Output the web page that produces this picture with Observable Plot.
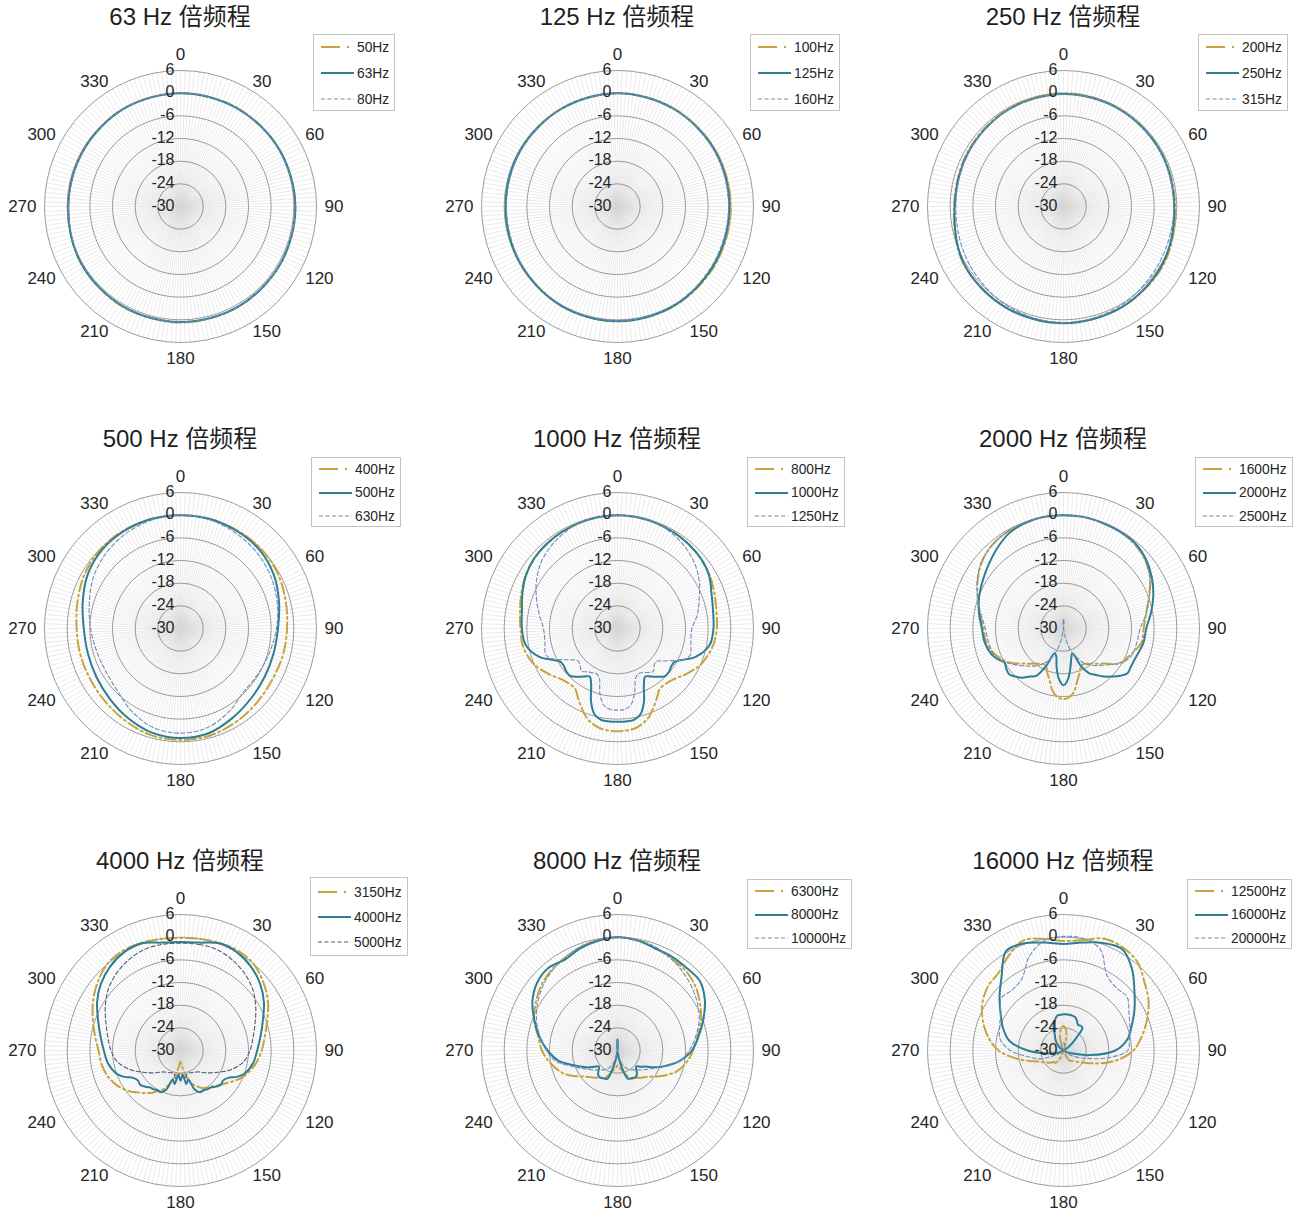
<!DOCTYPE html>
<html>
<head>
<meta charset="utf-8">
<script src="https://cdn.jsdelivr.net/npm/d3@7"></script>
<script src="https://cdn.jsdelivr.net/npm/@observablehq/plot@0.6"></script>
<style>
html,body{margin:0;padding:0;background:#fff;}
#page{position:relative;width:1293px;height:1212px;overflow:hidden;font-family:"Liberation Sans",Arial,Helvetica,sans-serif;color:#262626;}
.panel{position:absolute;}
.title{position:absolute;width:400px;text-align:center;font-size:24px;line-height:28px;font-family:"Liberation Sans","Noto Sans CJK SC",sans-serif;color:#1f1f1f;white-space:nowrap;}
.legend{position:absolute;background:#fff;border:1px solid #c4c4c4;}
.entry{height:18px;display:flex;align-items:center;font-size:13.8px;white-space:nowrap;color:#262626;}
.entry svg{display:block;margin-right:3px;}
</style>
</head>
<body>
<div id="page"></div>
<script>
// ---------------- data ----------------
const panelTitles = ["63 Hz 倍频程","125 Hz 倍频程","250 Hz 倍频程","500 Hz 倍频程","1000 Hz 倍频程","2000 Hz 倍频程","4000 Hz 倍频程","8000 Hz 倍频程","16000 Hz 倍频程"];
const panelNames = [["50Hz","63Hz","80Hz"],["100Hz","125Hz","160Hz"],["200Hz","250Hz","315Hz"],["400Hz","500Hz","630Hz"],["800Hz","1000Hz","1250Hz"],["1600Hz","2000Hz","2500Hz"],["3150Hz","4000Hz","5000Hz"],["6300Hz","8000Hz","10000Hz"],["12500Hz","16000Hz","20000Hz"]];

const thetaTicks = [0,30,60,90,120,150,180,210,240,270,300,330];
const rTicks = [6,0,-6,-12,-18,-24,-30];

// measurement angles (degrees, clockwise from front)
const A30 = [0,30,60,90,120,150,180,210,240,270,300,330];
const A15 = [0,15,30,45,60,75,90,105,120,135,150,165,180,195,210,225,240,255,270,285,300,315,330,345];
const AF = [0,10,20,30,40,50,60,70,80,90,100,110,115,120,125,130,135,140,145,150,155,160,165,170,175,180,185,190,195,200,205,210,215,220,225,230,235,240,245,250,260,270,280,290,300,310,320,330,340,350];

// levels in dB
const db50  = [0,0.1,0.2,0.4,0.5,0.6,0.7,0.6,0.3,-0.2,-0.3,0];
const db63  = [0,0,0.2,0.4,0.5,0.6,0.6,0.5,0.3,-0.3,-0.3,-0.1];
const db80  = [0,0,0.1,0.3,0.4,0.5,0.6,0.4,0.2,-0.4,-0.3,-0.1];

const db100 = [0,-0.1,-0.1,0,0.1,0.3,0.4,0.2,-0.1,-0.3,-0.3,-0.1];
const db125 = [0,-0.2,-0.3,-0.4,-0.2,0.2,0.4,0.2,-0.2,-0.4,-0.3,-0.2];
const db160 = [0,-0.2,-0.4,-0.6,-0.5,0,0.3,0,-0.4,-0.6,-0.4,-0.2];

const db200 = [0,-0.2,-0.4,-0.4,0.6,0.8,0.8,0.7,0.5,-1.0,-0.8,-0.3];
const db250 = [-0.2,-0.3,-0.5,-0.7,0.3,0.8,0.9,0.8,0.4,-1.2,-1.0,-0.5];
const db315 = [-0.2,-0.3,-0.6,-0.8,-0.6,0.3,0.8,0.2,-0.8,-1.5,-1.0,-0.5];

const db400 = [0,0,0,0,-0.4,-1.2,-1.8,-2.0,-2.2,-1.8,-1.2,-0.6,-0.5,-0.7,-1.5,-2.2,-2.6,-2.6,-2.5,-1.8,-0.8,-0.2,0,0];
const db500 = [0,0,-0.2,-0.5,-1.5,-3.0,-4.2,-4.5,-4.3,-3.7,-2.6,-1.3,-1.0,-1.4,-2.5,-3.6,-4.3,-4.6,-4.4,-3.2,-1.6,-0.6,-0.2,0];
const db630 = [0,-0.2,-0.8,-1.5,-2.4,-3.5,-4.6,-5.6,-6.2,-6.3,-4.5,-2.8,-2.3,-2.8,-4.5,-6.5,-7.2,-7.0,-6.2,-5.0,-3.3,-2.0,-1.0,-0.3];

const db800 = [0,0,-0.2,-0.5,-0.8,-1.2,-1.8,-2.7,-3.4,-3.7,-4.3,-5.5,
  -6.3,-7.4,-8.5,-9.6,-10.3,-10.6,-10.5,-9.0,-7.2,-5.3,-4.0,-3.2,-2.9,-2.8,-2.9,-3.2,-4.0,-5.3,-7.2,-9.0,-10.5,-10.6,-10.3,-9.6,-8.5,-7.4,-6.3,
  -5.5,-4.5,-4.3,-3.8,-2.9,-1.9,-1.2,-0.8,-0.5,-0.2,0];
const db1000 = [0,-0.1,-0.3,-0.5,-0.8,-1.2,-2.0,-3.5,-4.3,-4.6,-5.2,-8.0,
  -10.5,-12.5,-12.6,-12.2,-12.2,-13.3,-14.5,-15.3,-13.5,-9.5,-6.5,-5.4,-5.3,-5.3,-5.3,-5.4,-6.5,-9.5,-13.5,-15.3,-14.5,-13.3,-12.3,-12.3,-12.7,-12.5,-10.5,
  -8.0,-5.3,-4.7,-4.3,-3.2,-2.0,-1.2,-0.8,-0.5,-0.3,-0.1];
const db1250 = [0,-0.1,-0.3,-1.0,-2.0,-3.3,-5.0,-7.0,-8.5,-10.3,-10.3,-9.5,
  -10.5,-13.0,-15.0,-16.5,-16.3,-15.2,-15.8,-16.5,-16.8,-16.0,-12.5,-9.5,-8.5,-8.4,-8.5,-9.3,-12.0,-16.0,-16.8,-16.5,-16.0,-15.3,-16.0,-16.5,-15.5,-13.5,-11.0,
  -9.8,-10.5,-10.4,-9.0,-7.2,-5.2,-3.4,-2.1,-1.1,-0.3,-0.1];

const db1600 = [0,0,-0.2,-0.4,-0.8,-1.8,-3.5,-6.0,-7.8,-8.8,-9.0,-10.7,
  -11.5,-12.0,-13.5,-15.6,-16.8,-17.9,-18.6,-19.2,-19.0,-17.5,-15.8,-13.3,-11.8,-11.3,-11.8,-13.3,-15.8,-17.5,-19.0,-19.2,-18.6,-17.9,-16.8,-15.6,-14.0,-12.5,-11.5,
  -10.5,-9.2,-8.8,-7.6,-5.8,-3.8,-2.0,-0.9,-0.4,-0.2,0];
const db2000 = [0,0,-0.2,-0.3,-0.5,-1.5,-3.0,-4.7,-6.5,-8.1,-8.5,-9.3,
  -9.5,-9.5,-9.3,-10.5,-12.0,-13.4,-15.0,-16.3,-19.0,-23.0,-22.0,-19.5,-16.5,-15.0,-16.5,-19.5,-22.5,-23.0,-19.0,-15.5,-14.5,-13.0,-12.0,-11.2,-11.5,-12.0,-10.8,
  -9.8,-8.8,-8.4,-7.3,-6.2,-5.2,-4.0,-2.5,-1.0,-0.3,0];
const db2500 = [0,0,-0.2,-0.4,-0.8,-1.8,-3.6,-5.8,-7.8,-9.7,-10.2,-10.5,
  -11.0,-12.2,-13.6,-15.0,-16.2,-17.2,-18.3,-19.5,-21.5,-23.0,-25.5,-28.5,-31.5,-32.5,-31.5,-28.0,-25.0,-22.5,-20.5,-19.3,-18.0,-17.0,-16.0,-14.8,-13.5,-12.2,-11.0,
  -10.3,-9.8,-9.3,-7.8,-5.8,-3.7,-1.9,-0.9,-0.4,-0.2,0];

const db3150 = [-0.2,0,0.3,0.5,0,-1.5,-3.3,-5.5,-7.3,-8.5,-9.8,-11.5,
  -12.5,-13.8,-15.0,-16.0,-16.8,-17.5,-18.0,-18.5,-19.5,-20.5,-22.0,-24.0,-26.0,-27.0,-26.0,-24.0,-22.0,-20.0,-18.5,-17.5,-16.3,-15.3,-14.3,-13.0,-12.0,-11.0,-10.3,
  -9.6,-8.8,-8.3,-7.0,-5.3,-3.3,-1.5,0,0.5,0.3,0];
const db4000 = [-1.3,-1.0,0.2,0,-1.0,-2.5,-4.5,-6.8,-8.5,-9.7,-10.5,-12.0,
  -13.5,-15.5,-16.2,-16.0,-16.5,-17.3,-17.5,-17.8,-17.8,-19.0,-22.0,-21.0,-23.5,-22.0,-23.5,-21.0,-22.0,-19.0,-17.8,-17.8,-17.5,-17.3,-16.5,-16.0,-16.2,-15.5,-13.5,
  -12.0,-10.5,-9.7,-8.5,-6.8,-4.5,-2.5,-1.0,0,0.2,-1.0];
const db5000 = [-1.6,-1.5,-1.6,-2.4,-3.5,-5.0,-7.0,-9.0,-10.5,-11.6,-13.0,-15.5,
  -17.0,-18.5,-19.7,-20.8,-21.8,-22.6,-23.0,-23.3,-23.5,-23.7,-23.5,-22.5,-23.5,-24.0,-23.5,-22.5,-23.5,-23.7,-23.5,-23.3,-23.0,-22.6,-21.8,-20.8,-19.7,-18.5,-17.0,
  -15.5,-13.0,-11.6,-10.5,-9.0,-7.0,-5.0,-3.5,-2.4,-1.6,-1.5];

const db6300 = [0,-0.3,-1.0,-1.8,-2.2,-3.2,-4.8,-6.5,-8.5,-10.0,-11.5,-13.5,
  -15.0,-16.5,-18.0,-19.2,-20.0,-20.6,-21.2,-21.6,-22.0,-23.0,-24.0,-25.0,-25.5,-26.0,-25.5,-25.0,-24.0,-23.0,-22.0,-21.6,-21.2,-20.6,-20.0,-19.2,-18.0,-16.5,-15.0,
  -13.8,-11.8,-10.0,-8.7,-6.5,-5.0,-3.5,-2.5,-1.8,-1.0,-0.3];
const db8000 = [0,-0.4,-1.2,-1.3,-1.5,-1.5,-3.3,-5.8,-8.2,-10.3,-13.5,-17.5,
  -19.5,-21.5,-22.5,-23.5,-23.0,-22.0,-21.5,-21.6,-21.8,-22.1,-25.0,-28.0,-31.0,-33.0,-31.0,-28.0,-25.0,-22.0,-21.8,-21.6,-21.5,-22.0,-23.0,-23.5,-22.5,-21.0,-19.8,
  -18.3,-14.2,-11.5,-9.0,-6.6,-4.0,-2.2,-1.5,-2.2,-1.2,-0.5];
const db10000 = [0,-0.3,-0.8,-1.8,-3.0,-4.2,-5.5,-7.0,-9.0,-11.0,-13.5,-17.5,
  -19.0,-20.2,-21.2,-22.0,-22.8,-23.3,-23.8,-24.3,-25.0,-26.0,-27.5,-29.5,-31.5,-32.5,-31.5,-29.5,-27.5,-26.0,-25.0,-24.3,-23.8,-23.3,-22.8,-22.0,-21.2,-20.2,-19.0,
  -17.5,-13.5,-11.2,-9.2,-7.2,-5.5,-4.0,-2.8,-1.8,-0.8,-0.3];

const db12500 = [-1.0,-0.3,1.5,1.5,0.5,-2.0,-4.0,-6.5,-9.0,-11.5,-15.5,-20.0,
  -22.0,-23.5,-24.5,-25.3,-26.0,-26.4,-26.6,-27.0,-28.5,-31.0,-33.5,-35.0,-36.0,-36.5,-36.0,-34.5,-32.0,-29.5,-27.5,-26.5,-26.0,-26.0,-25.5,-25.0,-24.5,-23.8,-23.0,
  -21.6,-17.5,-12.8,-9.8,-7.3,-5.2,-3.8,-3.2,-1.0,1.0,0];
const db16000 = [-1.8,-1.0,0.3,1.0,-1.8,-5.5,-8.3,-10.8,-12.8,-16.3,-23.0,-27.8,
  -29.0,-30.0,-30.8,-31.5,-32.3,-33.0,-33.8,-34.5,-36.0,-37.5,-38.5,-39.4,-39.5,-39.6,-39.6,-39.6,-39.5,-39.3,-38.5,-37.8,-38.0,-37.8,-35.0,-33.0,-31.5,-30.0,-29.0,
  -28.0,-25.5,-20.5,-15.5,-13.0,-10.8,-7.9,-4.5,0.4,0.2,-1.0];
const db20000 = [0.2,0.1,-1.5,-7.0,-8.3,-8.0,-10.0,-11.3,-12.3,-13.0,-18.5,-24.0,
  -25.5,-27.0,-28.0,-29.0,-30.0,-30.5,-30.8,-31.0,-31.2,-31.5,-31.5,-31.8,-32.0,-32.0,-32.0,-31.8,-31.5,-31.5,-31.2,-31.0,-30.8,-30.5,-30.0,-29.5,-28.5,-27.5,-26.0,
  -23.5,-20.5,-15.9,-13.0,-12.0,-10.8,-8.5,-9.0,-8.0,-3.5,-0.5];

const panelAngles = [A30, A30, A30, A15, AF, AF, AF, AF, AF];
const panelValues = [
  [db50, db63, db80], [db100, db125, db160], [db200, db250, db315],
  [db400, db500, db630], [db800, db1000, db1250], [db1600, db2000, db2500],
  [db3150, db4000, db5000], [db6300, db8000, db10000], [db12500, db16000, db20000]
];

// ---------------- layout & style ----------------
const colX = [180, 617, 1063], rowY = [206, 628, 1050];
const R = 136;                 // outer ring radius in px
const rMin = -30, rMax = 6;
const U = rMax - rMin;         // radial span in dB
const S = 180;                 // half size of each svg
const k = R / U;               // px per dB
const rad = Math.PI / 180;
const spokeAngles = d3.range(0, 360, 2);
const LR = 144 / k;            // radius of the angle-label anchors

const GOLD = "#C8A43C", TEAL = "#2E7D96", BLUE = "#6E8CB9", SLATE = "#4E5878";
const dashColors = [BLUE, BLUE, BLUE, BLUE, BLUE, BLUE, SLATE, BLUE, BLUE];
// legend boxes: left, top, row spacing, first row offset
const legendBoxes = [[313,34,26,12],[750,34,26,12],[1198,34,26,12],[311,457,23.5,11],[747,457,23.5,11],[1195,457,23.5,11],[310,877,25,14],[747,879,23.5,11],[1187,879,23.5,11]];

const page = document.getElementById("page");

function polar(angles, vals) {
  return angles.map((a, i) => ({
    x: (vals[i] - rMin) * Math.sin(a * rad),
    y: (vals[i] - rMin) * Math.cos(a * rad)
  }));
}

const thetaText = (ticks, opts) => Plot.text(ticks, {
  x: a => LR * Math.sin(a * rad), y: a => LR * Math.cos(a * rad),
  text: a => String(a), fontSize: 17, fill: "#262626", ...opts
});

panelTitles.forEach((title, i) => {
  const cx = colX[i % 3], cy = rowY[Math.floor(i / 3)];
  const styles = [
    {stroke: GOLD, strokeWidth: 2, strokeDasharray: "11,3.5,2,3.5"},
    {stroke: TEAL, strokeWidth: 2},
    {stroke: dashColors[i], strokeWidth: 1.1, strokeDasharray: "4,2.5"}
  ];
  const marks = [
    Plot.link(spokeAngles, {
      x1: () => 0, y1: () => 0,
      x2: a => U * Math.sin(a * rad), y2: a => U * Math.cos(a * rad),
      stroke: "#d6d6d6", strokeWidth: 0.5
    }),
    Plot.dot(rTicks.filter(v => v > rMin), {
      x: () => 0, y: () => 0, r: v => v - rMin,
      stroke: "#5a5a5a", strokeWidth: 0.6, fill: "none"
    })
  ];
  panelValues[i].forEach((vals, j) => {
    marks.push(Plot.line(polar(panelAngles[i], vals), {
      x: "x", y: "y", curve: "catmull-rom-closed", ...styles[j]
    }));
  });
  marks.push(
    Plot.text(rTicks, {
      x: () => 0, y: v => v - rMin, text: v => String(v),
      textAnchor: "end", dx: -6, dy: -1, fontSize: 16, fill: "#262626"
    }),
    thetaText(thetaTicks.filter(a => a > 0 && a < 180), {textAnchor: "start"}),
    thetaText(thetaTicks.filter(a => a > 180), {textAnchor: "end"}),
    thetaText([0], {dy: -8}),
    thetaText([180], {dy: 8})
  );
  const chart = Plot.plot({
    width: 2 * S, height: 2 * S, margin: 0,
    x: {domain: [-S / k, S / k], axis: null},
    y: {domain: [-S / k, S / k], axis: null},
    r: {type: "linear", domain: [0, U], range: [0, R]},
    style: {fontFamily: "'Liberation Sans', Arial, sans-serif", overflow: "visible", background: "transparent"},
    marks
  });
  const wrap = document.createElement("div");
  wrap.className = "panel";
  wrap.style.left = (cx - S) + "px";
  wrap.style.top = (cy - S) + "px";
  wrap.appendChild(chart);
  page.appendChild(wrap);

  const t = document.createElement("div");
  t.className = "title";
  t.textContent = title;
  t.style.left = (cx - 200) + "px";
  t.style.top = (cy - 189 - 14) + "px";
  page.appendChild(t);

  // legend
  const [lx, ly, sp, off] = legendBoxes[i];
  const lg = document.createElement("div");
  lg.className = "legend";
  lg.style.left = lx + "px";
  lg.style.top = ly + "px";
  lg.style.padding = `${off - 9}px 5px ${off - 10}px 7px`;
  const legendDash = ["19,7,2,20", null, "4,2.5"];
  panelNames[i].forEach((name, j) => {
    const e = document.createElement("div");
    e.className = "entry";
    if (j > 0) e.style.marginTop = (sp - 18) + "px";
    const st = styles[j];
    e.innerHTML = `<svg width="33" height="10"><line x1="0" y1="5" x2="33" y2="5" stroke="${st.stroke}" stroke-width="${st.strokeWidth}" ${legendDash[j] ? `stroke-dasharray="${legendDash[j]}"` : ""}/></svg><span>${name}</span>`;
    lg.appendChild(e);
  });
  page.appendChild(lg);
});
</script>
</body>
</html>
